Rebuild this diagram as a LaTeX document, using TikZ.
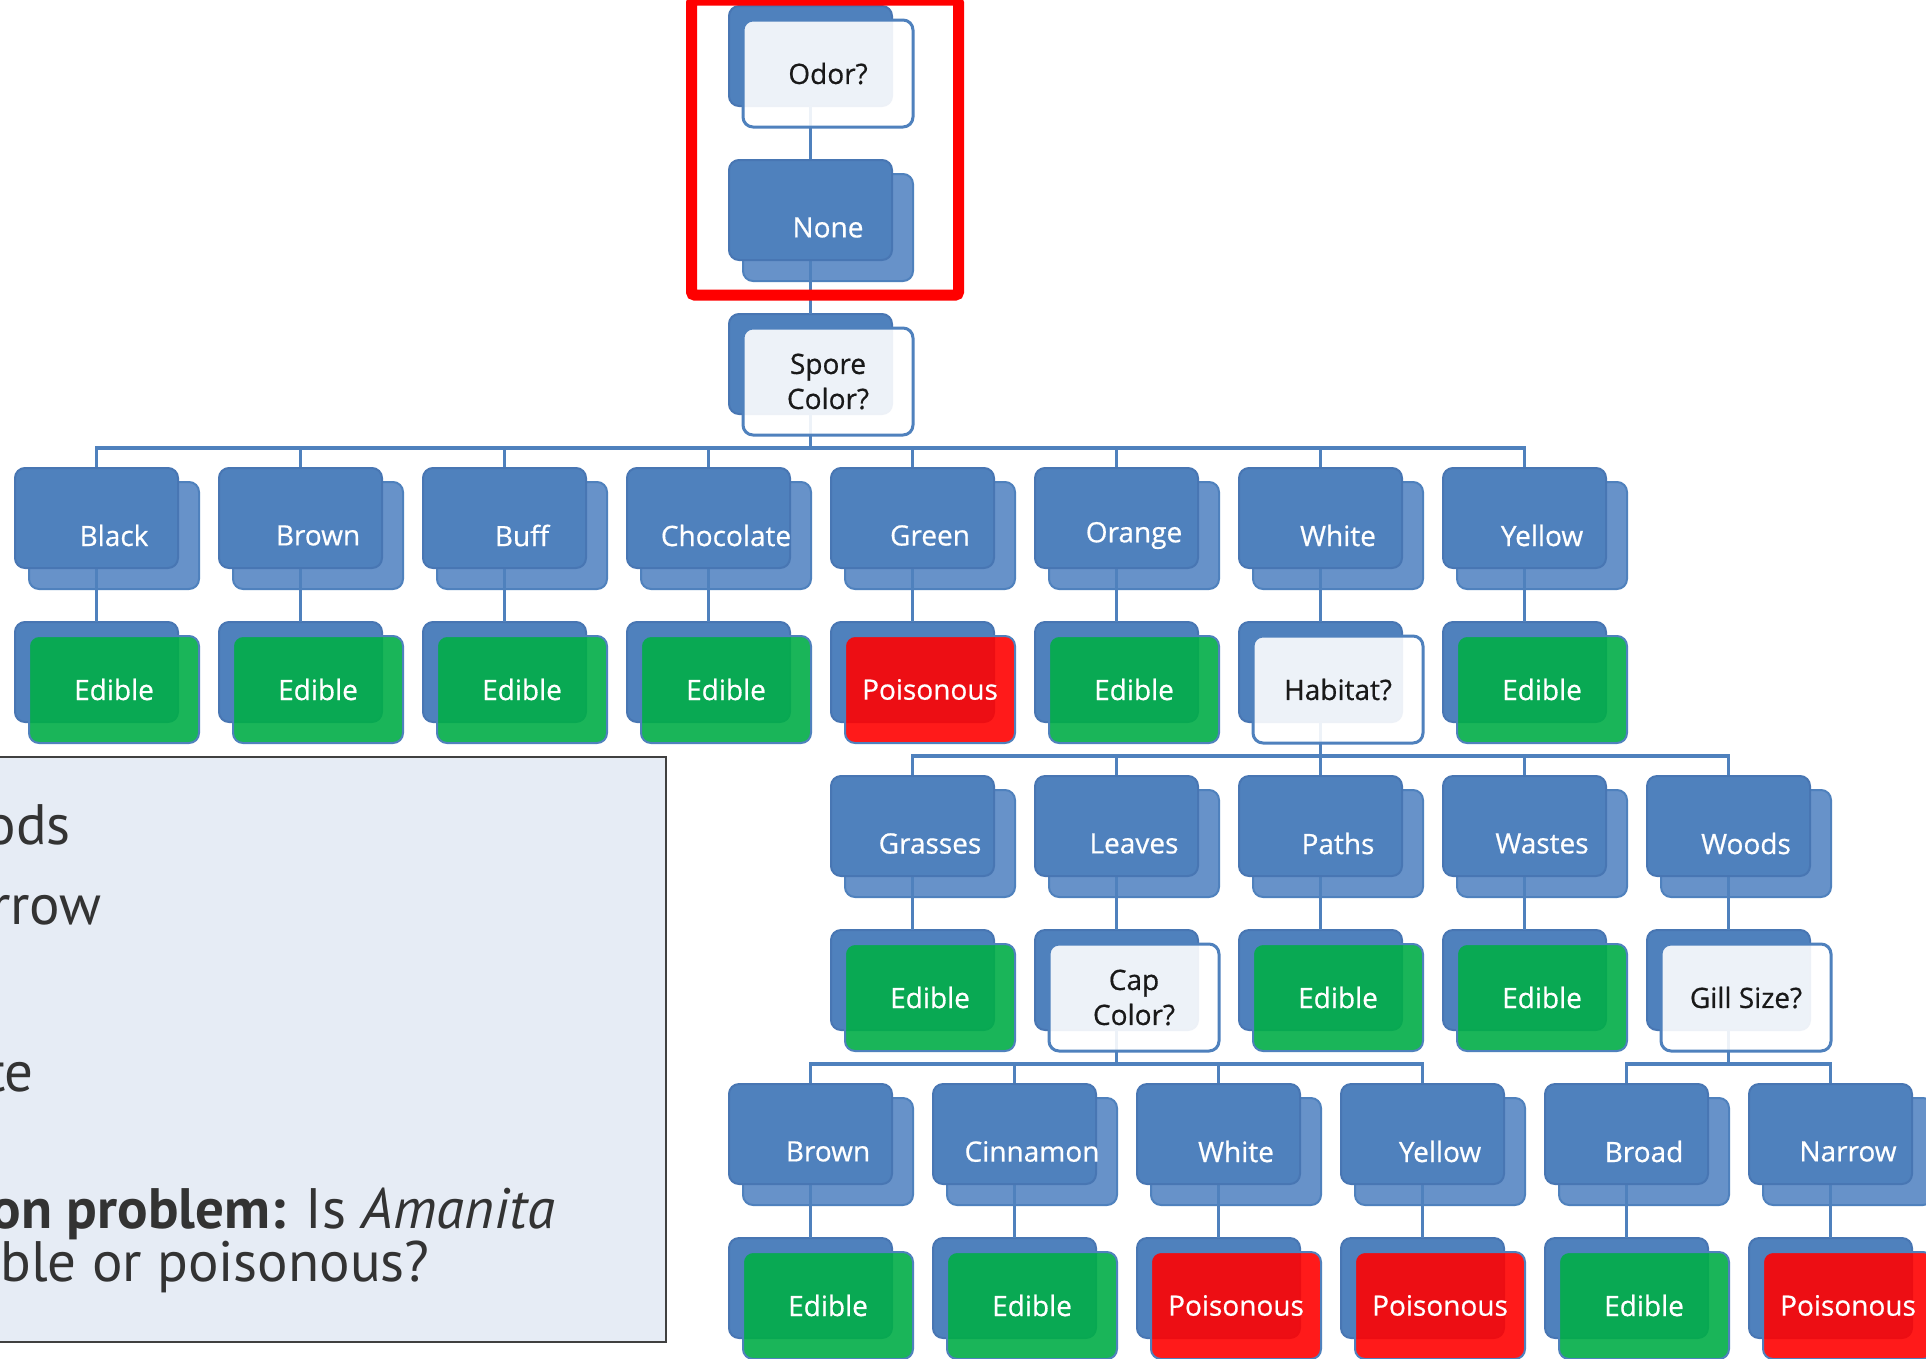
\documentclass[tikz,border=0pt]{standalone}
\usepackage{fontspec}
\setmainfont{Open Sans}
\newfontfamily\nodefamily{Open Sans}[FakeBold=0.6]
\newfontfamily\panelfont{PT Sans}

\pgfdeclarelayer{lower}
\pgfdeclarelayer{upper}
\pgfsetlayers{lower,main,upper}

\definecolor{acc}{HTML}{4F81BD}
\definecolor{accdark}{HTML}{4876B3}
\definecolor{acclight}{HTML}{6792C9}
\definecolor{edgreen}{RGB}{2,174,72}
\definecolor{poisred}{RGB}{255,2,2}
\definecolor{panelbg}{HTML}{E6ECF5}
\definecolor{paneledge}{HTML}{404040}
\definecolor{paneltext}{HTML}{333333}
\definecolor{markred}{HTML}{FF0000}

\newcommand\boxfont{\nodefamily\fontsize{28}{35}\selectfont}

\tikzset{
  box/.style={rectangle, rounded corners=10pt, inner sep=0pt, outer sep=0pt, line width=2pt},
  backbox/.style={box, minimum width=163pt, minimum height=100pt, fill=acc, draw=accdark},
  lightbox/.style={box, minimum width=170pt, minimum height=107pt, fill=acclight, draw=acc},
  frontbox/.style={box, minimum width=170pt, minimum height=107pt, draw=acc,
    fill opacity=0.9, text opacity=1, font=\boxfont},
  qbox/.style={frontbox, fill=white, line width=3pt, text=black!90, align=center},
  edbox/.style={frontbox, fill=edgreen, text=white},
  pbox/.style={frontbox, fill=poisred, text=white},
  boxtext/.style={inner sep=0pt, font=\boxfont, text=white},
  conn/.style={draw=acc, line width=3.5pt},
  paneltxt/.style={inner sep=0pt, anchor=base east, text=paneltext,
    font=\panelfont\fontsize{57}{66}\selectfont},
}

% value node: light plate behind, darker plate in front, label on top
\newcommand\catnode[4]{%
  \begin{pgfonlayer}{lower}
    \node[lightbox] (#1-f) at ({#2+17.5},{#3+67.5}) {};
  \end{pgfonlayer}
  \begin{pgfonlayer}{upper}
    \node[backbox] (#1) at ({#2},{#3+50}) {};
    \node[boxtext] (#1-t) at (#1-f.center) {#4};
  \end{pgfonlayer}}

% question / outcome node: blue plate behind, tinted plate in front
\newcommand\leafnode[5]{%
  \begin{pgfonlayer}{lower}
    \node[backbox] (#1) at ({#3},{#4+50}) {};
  \end{pgfonlayer}
  \begin{pgfonlayer}{upper}
    \node[#2] (#1-f) at ({#3+17.5},{#4+67.5}) {#5};
  \end{pgfonlayer}}

\begin{document}
\begin{tikzpicture}[x=1pt,y=-1pt]
\useasboundingbox (0,0) rectangle (1926,1358);
\begin{pgfonlayer}{lower}
  \fill[white] (0,0) rectangle (1926,1358);
\end{pgfonlayer}

% top of the tree
\leafnode{odor}{qbox}{810.5}{6}{Odor?}
\catnode{none}{810.5}{160}{None}
\leafnode{spore}{qbox}{810.5}{314}{Spore\\Color?}

% spore colours
\catnode{black}{96.5}{468}{Black}
\catnode{brown}{300.5}{468}{Brown}
\catnode{buff}{504.5}{468}{Buff}
\catnode{choc}{708.5}{468}{Chocolate}
\catnode{green}{912.5}{468}{Green}
\catnode{orange}{1116.5}{468}{Orange}
\catnode{white}{1320.5}{468}{White}
\catnode{yellow}{1524.5}{468}{Yellow}

\leafnode{blackE}{edbox}{96.5}{622}{Edible}
\leafnode{brownE}{edbox}{300.5}{622}{Edible}
\leafnode{buffE}{edbox}{504.5}{622}{Edible}
\leafnode{chocE}{edbox}{708.5}{622}{Edible}
\leafnode{greenP}{pbox}{912.5}{622}{Poisonous}
\leafnode{orangeE}{edbox}{1116.5}{622}{Edible}
\leafnode{habitat}{qbox}{1320.5}{622}{Habitat?}
\leafnode{yellowE}{edbox}{1524.5}{622}{Edible}

% habitats
\catnode{grasses}{912.5}{776}{Grasses}
\catnode{leaves}{1116.5}{776}{Leaves}
\catnode{paths}{1320.5}{776}{Paths}
\catnode{wastes}{1524.5}{776}{Wastes}
\catnode{woods}{1728.5}{776}{Woods}

\leafnode{grassesE}{edbox}{912.5}{930}{Edible}
\leafnode{capcolor}{qbox}{1116.5}{930}{Cap\\Color?}
\leafnode{pathsE}{edbox}{1320.5}{930}{Edible}
\leafnode{wastesE}{edbox}{1524.5}{930}{Edible}
\leafnode{gillsize}{qbox}{1728.5}{930}{Gill Size?}

% cap colours and gill sizes
\catnode{cbrown}{810.5}{1084}{Brown}
\catnode{cinnamon}{1014.5}{1084}{Cinnamon}
\catnode{cwhite}{1218.5}{1084}{White}
\catnode{cyellow}{1422.5}{1084}{Yellow}
\catnode{broad}{1626.5}{1084}{Broad}
\catnode{narrow}{1830.5}{1084}{Narrow}

\leafnode{cbrownE}{edbox}{810.5}{1238}{Edible}
\leafnode{cinnamonE}{edbox}{1014.5}{1238}{Edible}
\leafnode{cwhiteP}{pbox}{1218.5}{1238}{Poisonous}
\leafnode{cyellowP}{pbox}{1422.5}{1238}{Poisonous}
\leafnode{broadE}{edbox}{1626.5}{1238}{Edible}
\leafnode{narrowP}{pbox}{1830.5}{1238}{Poisonous}

% connectors
\draw[conn] (odor.south) -- (none.north);
\draw[conn] (none.south) -- (spore.north);
\foreach \c in {black,brown,buff,choc,green,orange,white,yellow}
  \draw[conn] (spore.south) |- ([yshift=20pt]\c.north) -- (\c.north);
\foreach \a/\b in {black/blackE,brown/brownE,buff/buffE,choc/chocE,green/greenP,
                   orange/orangeE,white/habitat,yellow/yellowE}
  \draw[conn] (\a.south) -- (\b.north);
\foreach \c in {grasses,leaves,paths,wastes,woods}
  \draw[conn] (habitat.south) |- ([yshift=20pt]\c.north) -- (\c.north);
\foreach \a/\b in {grasses/grassesE,leaves/capcolor,paths/pathsE,wastes/wastesE,woods/gillsize}
  \draw[conn] (\a.south) -- (\b.north);
\foreach \c in {cbrown,cinnamon,cwhite,cyellow}
  \draw[conn] (capcolor.south) |- ([yshift=20pt]\c.north) -- (\c.north);
\foreach \c in {broad,narrow}
  \draw[conn] (gillsize.south) |- ([yshift=20pt]\c.north) -- (\c.north);
\foreach \a/\b in {cbrown/cbrownE,cinnamon/cinnamonE,cwhite/cwhiteP,cyellow/cyellowP,
                   broad/broadE,narrow/narrowP}
  \draw[conn] (\a.south) -- (\b.north);

% text panel, running off the left edge
\draw[fill=panelbg, draw=paneledge, line width=2pt] (-10,757) rectangle (666,1342);
\node[paneltxt] (t1) at (71,844) {ods};
\node[paneltxt] (t2) at (102,924) {rrow};
\node[paneltxt] (t3) at (34,1091) {te};
\node[paneltxt] (t4) at (555,1228) {\textbf{on problem:} Is \textit{Amanita}};
\node[paneltxt] (t5) at (430,1281) {ble or poisonous?};

% highlight frame
\begin{pgfonlayer}{upper}
  \draw[markred, line width=11pt, rounded corners=3pt] (691.5,0) rectangle (958.5,295);
\end{pgfonlayer}
\end{tikzpicture}
\end{document}
